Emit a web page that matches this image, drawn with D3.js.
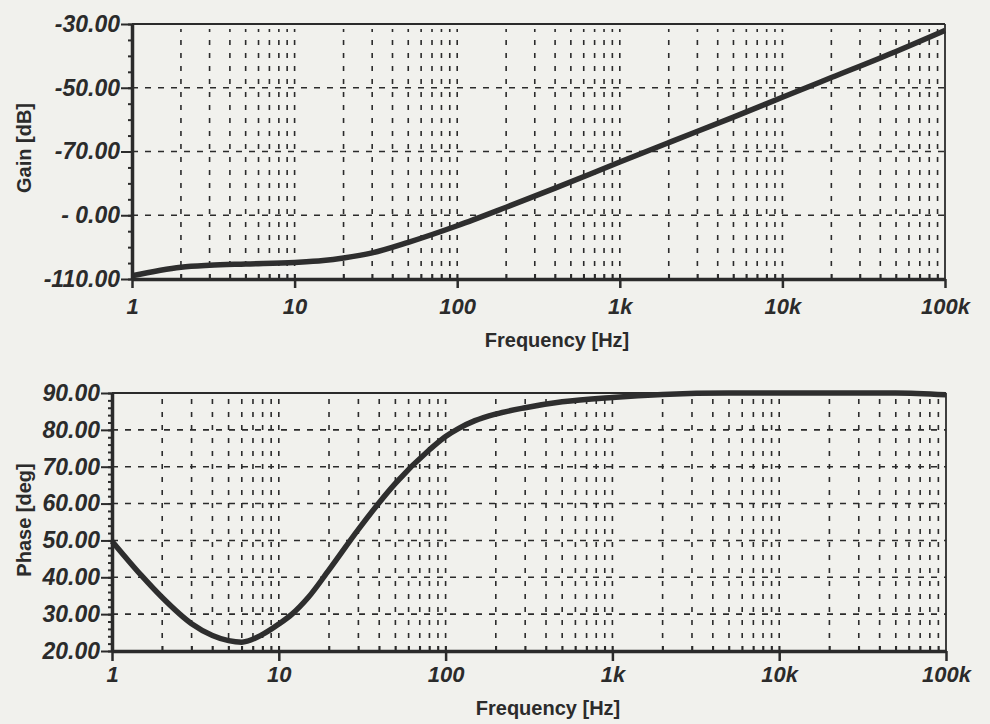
<!DOCTYPE html>
<html>
<head>
<meta charset="utf-8">
<script src="https://cdn.jsdelivr.net/npm/d3@7"></script>
<style>
  body { margin: 0; background: #f1f1ed; }
  svg { display: block; }
  text { font-family: "Liberation Sans", Arial, sans-serif; fill: #2b2b2b; }
</style>
</head>
<body>
<div id="vis"></div>
<script>
// frequency axis (shared)
var freqTicks = [1, 10, 100, 1000, 10000, 100000];
var freqLabels = ["1", "10", "100", "1k", "10k", "100k"];

// gain curve
var gainFreq = [1, 2, 3, 5, 10, 15, 20, 30, 50, 100, 200, 400, 1000, 2000, 5000, 10000, 20000, 50000, 100000];
var gainDb   = [-109, -106.3, -105.7, -105.3, -104.8, -104.2, -103.4, -101.8, -98.5, -93.3, -87.5, -81.5, -73.3, -67.2, -59.2, -53, -46.8, -38.6, -32];
var gainTicks  = [-30, -50, -70, -90, -110];
var gainLabels = ["-30.00", "-50.00", "-70.00", "- 0.00", "-110.00"];

// phase curve
var phaseFreq = [1, 1.5, 2, 3, 4, 5, 6, 8, 10, 12, 15, 20, 30, 50, 80, 100, 120, 150, 200, 300, 500, 1000, 2000, 5000, 10000, 50000, 100000];
var phaseDeg  = [49.8, 40.5, 34.5, 27.4, 24.2, 22.8, 22.4, 24.5, 27.3, 30, 34.5, 42, 53, 65.5, 74.6, 78.2, 80.4, 82.5, 84.3, 86, 87.6, 88.8, 89.6, 90, 90, 90, 89.5];
var phaseTicks  = [90, 80, 70, 60, 50, 40, 30, 20];
var phaseLabels = ["90.00", "80.00", "70.00", "60.00", "50.00", "40.00", "30.00", "20.00"];

var W = 990, H = 724;
var ink = "#2b2b2b";

var svg = d3.select("#vis").append("svg")
    .attr("width", W)
    .attr("height", H);

// all 1..9 multiples of each decade, for grid and minor ticks
var gridFreqs = [];
for (var d = 1; d < 100000; d *= 10) {
  for (var k = 1; k < 10; k++) gridFreqs.push(k * d);
}

function drawPanel(cfg) {
  var x = d3.scaleLog().domain([1, 100000]).range([cfg.left, cfg.right]);
  var y = d3.scaleLinear().domain(cfg.yDomain).range([cfg.bottom, cfg.top]);
  var g = svg.append("g");

  // vertical dashed grid
  g.selectAll(".vgrid")
    .data(gridFreqs.filter(function(f) { return f > 1; }))
    .enter().append("line")
      .attr("x1", function(f) { return x(f); })
      .attr("x2", function(f) { return x(f); })
      .attr("y1", cfg.bottom)
      .attr("y2", cfg.top + 5)
      .attr("stroke", ink)
      .attr("stroke-width", 1.6)
      .attr("stroke-dasharray", "5,8");

  // horizontal dashed grid at the labelled values
  g.selectAll(".hgrid")
    .data(cfg.yTicks.filter(function(v) { return v != cfg.yDomain[0] && v != cfg.yDomain[1]; }))
    .enter().append("line")
      .attr("x1", cfg.left)
      .attr("x2", cfg.right)
      .attr("y1", function(v) { return y(v); })
      .attr("y2", function(v) { return y(v); })
      .attr("stroke", ink)
      .attr("stroke-width", 1.6)
      .attr("stroke-dasharray", "6,7");

  // frame (top and right thin)
  g.append("line").attr("x1", cfg.left).attr("x2", cfg.right)
    .attr("y1", cfg.top).attr("y2", cfg.top)
    .attr("stroke", ink).attr("stroke-width", 1.8);
  g.append("line").attr("x1", cfg.right).attr("x2", cfg.right)
    .attr("y1", cfg.top).attr("y2", cfg.bottom)
    .attr("stroke", ink).attr("stroke-width", 1.8);

  // the curve
  var line = d3.line()
    .x(function(d) { return x(d[0]); })
    .y(function(d) { return y(d[1]); })
    .curve(d3.curveMonotoneX);
  g.append("path")
    .datum(d3.zip(cfg.freq, cfg.vals))
    .attr("d", line)
    .attr("fill", "none")
    .attr("stroke", "#2e2e2e")
    .attr("stroke-width", 5.5)
    .attr("stroke-linejoin", "round");

  // minor y ticks
  var minorY = d3.range(cfg.yDomain[0], cfg.yDomain[1] + 0.001, cfg.minorStep);
  g.append("g")
    .attr("transform", "translate(" + cfg.left + ",0)")
    .call(d3.axisLeft(y).tickValues(minorY).tickSize(4).tickFormat(""))
    .call(function(s) {
      s.select(".domain").remove();
      s.selectAll("line").attr("stroke", ink).attr("stroke-width", 2);
    });

  // major y axis
  g.append("g")
    .attr("transform", "translate(" + cfg.left + ",0)")
    .call(d3.axisLeft(y).tickValues(cfg.yTicks).tickSize(11).tickSizeOuter(0).tickPadding(1)
      .tickFormat(function(v, i) { return cfg.yLabels[i]; }))
    .call(function(s) {
      s.select(".domain").attr("stroke", ink).attr("stroke-width", 3.5);
      s.selectAll("line").attr("stroke", ink).attr("stroke-width", 2);
      s.selectAll("text")
        .style("font-size", "23px")
        .style("font-weight", "bold")
        .style("font-style", "italic")
        .attr("fill", ink);
    });

  // minor x ticks (pointing up, inside)
  g.append("g")
    .attr("transform", "translate(0," + cfg.bottom + ")")
    .call(d3.axisTop(x).tickValues(gridFreqs.filter(function(f) { return f > 1; })).tickSize(5).tickFormat(""))
    .call(function(s) {
      s.select(".domain").remove();
      s.selectAll("line").attr("stroke", ink).attr("stroke-width", 1.6);
    });

  // major x axis
  g.append("g")
    .attr("transform", "translate(0," + cfg.bottom + ")")
    .call(d3.axisBottom(x).tickValues(freqTicks).tickSize(cfg.xTickSize).tickSizeOuter(0).tickPadding(cfg.xPad)
      .tickFormat(function(v, i) { return freqLabels[i]; }))
    .call(function(s) {
      s.select(".domain").attr("stroke", ink).attr("stroke-width", 3.5);
      s.selectAll("line").attr("stroke", ink).attr("stroke-width", 2.5);
      s.selectAll("text")
        .style("font-size", "22px")
        .style("font-weight", "bold")
        .style("font-style", "italic")
        .attr("fill", ink);
    });

  // axis titles
  svg.append("text")
    .attr("transform", "translate(" + cfg.yTitlePos[0] + "," + cfg.yTitlePos[1] + ") rotate(-90)")
    .attr("text-anchor", "middle")
    .attr("dominant-baseline", "central")
    .style("font-size", "20px")
    .style("font-weight", "bold")
    .text(cfg.yTitle);

  svg.append("text")
    .attr("x", cfg.xTitlePos[0])
    .attr("y", cfg.xTitlePos[1])
    .attr("text-anchor", "middle")
    .attr("dominant-baseline", "central")
    .style("font-size", "20px")
    .style("font-weight", "bold")
    .text("Frequency [Hz]");
}

drawPanel({
  left: 132, right: 945, top: 24, bottom: 279,
  yDomain: [-110, -30], yTicks: gainTicks, yLabels: gainLabels, minorStep: 5,
  freq: gainFreq, vals: gainDb,
  xTickSize: 9, xPad: 10,
  yTitle: "Gain [dB]", yTitlePos: [24, 148],
  xTitlePos: [557, 340]
});

drawPanel({
  left: 112, right: 946, top: 393, bottom: 651,
  yDomain: [20, 90], yTicks: phaseTicks, yLabels: phaseLabels, minorStep: 2,
  freq: phaseFreq, vals: phaseDeg,
  xTickSize: 10, xPad: 5,
  yTitle: "Phase [deg]", yTitlePos: [24, 520],
  xTitlePos: [548, 708]
});
</script>
</body>
</html>
